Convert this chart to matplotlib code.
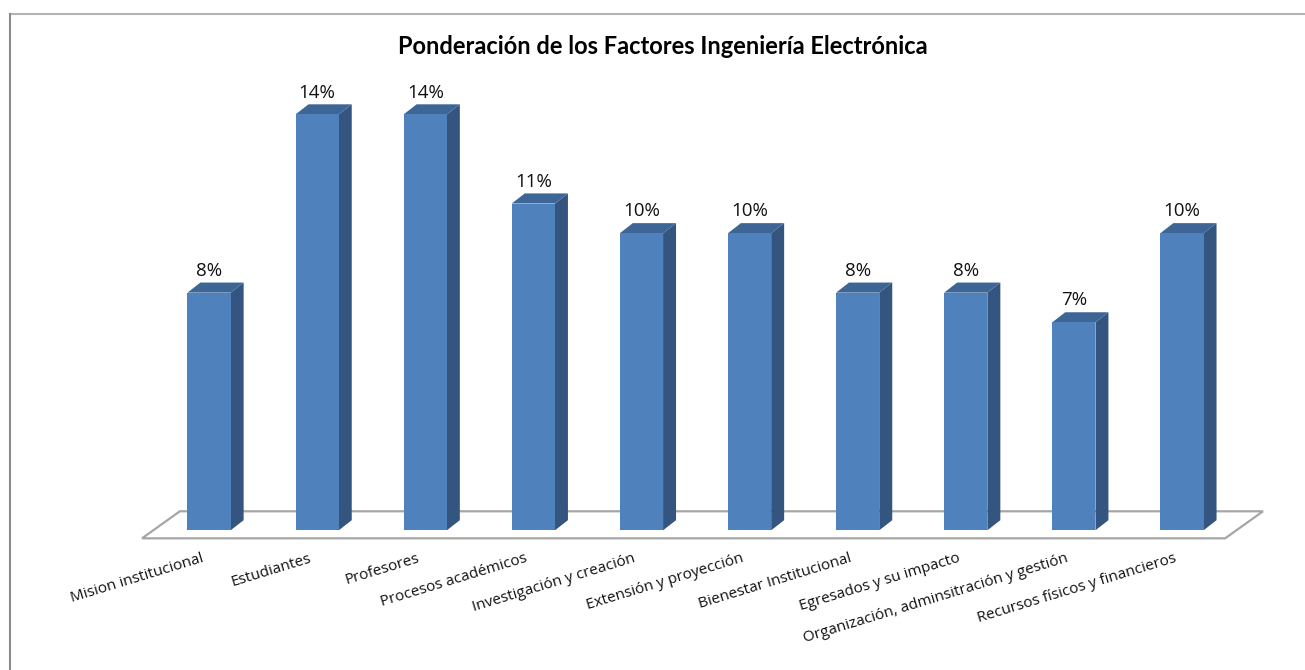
import matplotlib
matplotlib.use("Agg")
import matplotlib.pyplot as plt
from matplotlib.patches import Polygon
from matplotlib.lines import Line2D

# ---- data ----
categories = [
    "Mision institucional", "Estudiantes", "Profesores", "Procesos académicos",
    "Investigación y creación", "Extensión y proyección", "Bienestar Institucional",
    "Egresados y su impacto", "Organización, adminsitración y gestión",
    "Recursos físicos y financieros",
]
values = [8, 14, 14, 11, 10, 10, 8, 8, 7, 10]
value_labels = ["8%", "14%", "14%", "11%", "10%", "10%", "8%", "8%", "7%", "10%"]
title = "Ponderación de los Factores Ingeniería Electrónica"

# ---- style ----
TITLE_FONT = ["Lato", "DejaVu Sans"]
FONT = ["Open Sans", "DejaVu Sans"]
FRONT = "#4F81BD"
SIDE = "#34557F"
TOP = "#3D6696"
W, H, DPI = 1305, 670, 100
BAR_W = 0.40
DX, DY = 0.12, 0.34  # 3-D depth offsets (x units, y units)

fig = plt.figure(figsize=(W / DPI, H / DPI), dpi=DPI)
fig.patch.set_facecolor("white")
ax = fig.add_axes([155 / W, (H - 560) / H, 1081 / W, 505 / H])
ax.set_xlim(-0.5, len(values) - 0.5)
ax.set_ylim(-1, 16)
ax.axis("off")

x = list(range(len(values)))

# floor (parallelogram below the bars)
fx0, fx1 = -0.62, len(values) - 1 + 0.40
fy0, fy1 = -0.27, 0.64
fshift = 0.35
floor = Polygon([(fx0, fy0), (fx1, fy0), (fx1 + fshift, fy1), (fx0 + fshift, fy1)],
                closed=True, facecolor="white", edgecolor="#A6A6A6", lw=1.6,
                clip_on=False, zorder=1)
ax.add_patch(floor)

# front faces
bars = ax.bar(x, values, width=BAR_W, color=FRONT, zorder=3, clip_on=False)

for xi, v, lab in zip(x, values, value_labels):
    l, r = xi - BAR_W / 2, xi + BAR_W / 2
    side = Polygon([(r, 0), (r + DX, DY), (r + DX, v + DY), (r, v)], closed=True,
                   facecolor=SIDE, edgecolor="none", zorder=2, clip_on=False)
    top = Polygon([(l, v), (r, v), (r + DX, v + DY), (l + DX, v + DY)], closed=True,
                  facecolor=TOP, edgecolor="none", zorder=2, clip_on=False)
    ax.add_patch(side)
    ax.add_patch(top)
    ax.annotate(lab, (xi, v + DY), xytext=(0, 2), textcoords="offset points",
                ha="center", va="bottom", fontsize=13.5, family=FONT, color="#111111")

# category labels, rotated
for xi, cat in zip(x, categories):
    ax.annotate(cat, (xi, fy0), xytext=(-6, -9), textcoords="offset points",
                ha="right", va="top", rotation=17, rotation_mode="anchor",
                fontsize=11, family=FONT, color="#111111")

fig.text(663 / W, 1 - 46 / H, title, ha="center", va="center",
         fontsize=17, fontweight="bold", family=TITLE_FONT, color="black")

# chart-area border
fig.add_artist(Line2D([9.5 / W, 1], [1 - 14 / H, 1 - 14 / H], transform=fig.transFigure,
                      color="#B4B4B4", lw=1.5))
fig.add_artist(Line2D([9.5 / W, 9.5 / W], [0, 1 - 14 / H], transform=fig.transFigure,
                      color="#8C8C8C", lw=1.5))

fig.savefig("out.png", dpi=DPI, facecolor="white")
